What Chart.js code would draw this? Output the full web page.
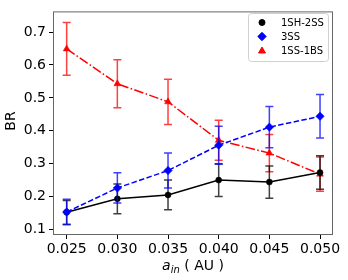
<!DOCTYPE html>
<html><head><meta charset="utf-8">
<script src="https://cdn.jsdelivr.net/npm/chart.js@4.4.0/dist/chart.umd.min.js"></script>
<style>html,body{margin:0;padding:0;background:#fff}#c{display:block}</style>
</head><body>
<canvas id="c" width="348" height="280"></canvas>
<script>
const aIn = [0.025, 0.030, 0.035, 0.040, 0.045, 0.050];
const xTicks = [0.025, 0.030, 0.035, 0.040, 0.045, 0.050];
const yTicks = [0.1, 0.2, 0.3, 0.4, 0.5, 0.6, 0.7];
const br1SH2SS = [0.152, 0.193, 0.205, 0.250, 0.244, 0.273];
const err1SH2SS = [0.036, 0.045, 0.045, 0.050, 0.049, 0.051];
const br3SS = [0.153, 0.226, 0.279, 0.356, 0.411, 0.444];
const err3SS = [0.039, 0.046, 0.053, 0.058, 0.063, 0.066];
const br1SS1BS = [0.649, 0.543, 0.488, 0.371, 0.332, 0.268];
const err1SS1BS = [0.080, 0.073, 0.069, 0.061, 0.057, 0.052];
const seriesNames = ['1SH-2SS', '3SS', '1SS-1BS'];

const FONT = "'DejaVu Sans', sans-serif";
function pts(v){ return aIn.map((x,i)=>({x:x, y:v[i]})); }

const errPlugin = {
  id: 'err',
  beforeDatasetDraw(chart, args) {
    const ds = chart.data.datasets[args.index];
    if (!ds.errs) return;
    const xs = chart.scales.x, ys = chart.scales.y, ctx = chart.ctx;
    ctx.save();
    ctx.strokeStyle = ds.errColor;
    ctx.lineWidth = 1.5;
    ctx.setLineDash([]);
    ds.data.forEach((p, i) => {
      const px = xs.getPixelForValue(p.x);
      const y1 = ys.getPixelForValue(p.y + ds.errs[i]);
      const y2 = ys.getPixelForValue(p.y - ds.errs[i]);
      ctx.beginPath();
      ctx.moveTo(px, y1); ctx.lineTo(px, y2);
      ctx.moveTo(px-4, y1); ctx.lineTo(px+4, y1);
      ctx.moveTo(px-4, y2); ctx.lineTo(px+4, y2);
      ctx.stroke();
    });
    ctx.restore();
  },
  afterDraw(chart) {
    const ctx = chart.ctx, a = chart.chartArea;
    ctx.save();
    // frame
    ctx.strokeStyle = '#666';
    ctx.lineWidth = 1;
    ctx.strokeRect(a.left + 0.5, a.top + 0.5, a.right - a.left - 1, a.bottom - a.top - 1);
    // legend
    const lx = 248, ly = 13, lw = 80, lh = 48;
    ctx.fillStyle = 'rgba(255,255,255,0.8)';
    ctx.strokeStyle = '#d0d0d0';
    ctx.beginPath();
    ctx.roundRect(lx + 0.5, ly + 0.5, lw, lh, 3);
    ctx.fill(); ctx.stroke();
    const rowsY = [22.5, 36.5, 51];
    const styles = [['circle','#000',3], ['rectRot','#0000ff',4.2], ['triangle','#ff0000',4]];
    for (let i = 0; i < 3; i++) {
      ctx.fillStyle = styles[i][1]; ctx.strokeStyle = styles[i][1];
      Chart.helpers.drawPoint(ctx, {pointStyle: styles[i][0], radius: styles[i][2], borderWidth: 0.5}, 262, rowsY[i]);
      ctx.fillStyle = '#000';
      ctx.font = '10px ' + FONT;
      ctx.textBaseline = 'middle';
      ctx.textAlign = 'left';
      ctx.fillText(seriesNames[i], 281, rowsY[i] + 0.5);
    }
    // axis titles
    ctx.fillStyle = '#000';
    ctx.save();
    ctx.translate(11, 121);
    ctx.rotate(-Math.PI/2);
    ctx.font = '14px ' + FONT;
    ctx.textAlign = 'center';
    ctx.textBaseline = 'middle';
    ctx.fillText('BR', 0, 0);
    ctx.restore();
    // x title: a_in ( AU )
    const f1 = 'italic 14px ' + FONT, f2 = 'italic 10px ' + FONT, f3 = '14px ' + FONT;
    ctx.textBaseline = 'alphabetic';
    ctx.textAlign = 'left';
    ctx.font = f1; const wA = ctx.measureText('a').width;
    ctx.font = f2; const wIn = ctx.measureText('in').width;
    ctx.font = f3; const wR = ctx.measureText(' ( AU )').width;
    let x0 = 193 - (wA + wIn + wR) / 2;
    const by = 270;
    ctx.font = f1; ctx.fillText('a', x0, by); x0 += wA;
    ctx.font = f2; ctx.fillText('in', x0, by + 3); x0 += wIn;
    ctx.font = f3; ctx.fillText(' ( AU )', x0, by);
    ctx.restore();
  }
};

new Chart(document.getElementById('c'), {
  type: 'line',
  data: {
    datasets: [
      { label: seriesNames[0], data: pts(br1SH2SS), errs: err1SH2SS, errColor: 'rgba(0,0,0,0.75)',
        borderColor: '#000', backgroundColor: '#000', borderWidth: 1.5,
        pointStyle: 'circle', pointRadius: 3, pointBorderWidth: 0.5, order: 1 },
      { label: seriesNames[1], data: pts(br3SS), errs: err3SS, errColor: 'rgba(0,0,255,0.75)',
        borderColor: '#0000ff', backgroundColor: '#0000ff', borderWidth: 1.5, borderDash: [5.5, 2.4],
        pointStyle: 'rectRot', pointRadius: 4.2, pointBorderWidth: 0.5, order: 0 },
      { label: seriesNames[2], data: pts(br1SS1BS), errs: err1SS1BS, errColor: 'rgba(255,0,0,0.75)',
        borderColor: '#ff0000', backgroundColor: '#ff0000', borderWidth: 1.5, borderDash: [9.6, 2.4, 1.5, 2.4],
        pointStyle: 'triangle', pointRadius: 4, pointBorderWidth: 0.5, order: 2 }
    ]
  },
  options: {
    responsive: false, animation: false, devicePixelRatio: 1,
    layout: { padding: { left: 0, top: 8, right: 15, bottom: 0 } },
    plugins: { legend: { display: false }, tooltip: { enabled: false } },
    elements: { line: { tension: 0 } },
    scales: {
      x: {
        type: 'linear', min: 0.02365, max: 0.05128,
        afterBuildTicks: s => { s.ticks = xTicks.map(v => ({value: v})); },
        afterFit: s => { s.height = 45; },
        border: { display: false },
        grid: { drawOnChartArea: false, drawTicks: true, tickLength: 4, color: '#000', tickWidth: 1 },
        ticks: { color: '#000', font: { family: FONT, size: 14 }, padding: 2, maxRotation: 0, autoSkip: false,
                 callback: v => v.toFixed(3) }
      },
      y: {
        type: 'linear', min: 0.083, max: 0.763,
        afterBuildTicks: s => { s.ticks = yTicks.map(v => ({value: v})); },
        afterFit: s => { s.width = 53; },
        border: { display: false },
        grid: { drawOnChartArea: false, drawTicks: true, tickLength: 4, color: '#000', tickWidth: 1 },
        ticks: { color: '#000', font: { family: FONT, size: 14 }, padding: 3, autoSkip: false,
                 callback: v => v.toFixed(1) }
      }
    }
  },
  plugins: [errPlugin]
});
</script>
</body></html>
